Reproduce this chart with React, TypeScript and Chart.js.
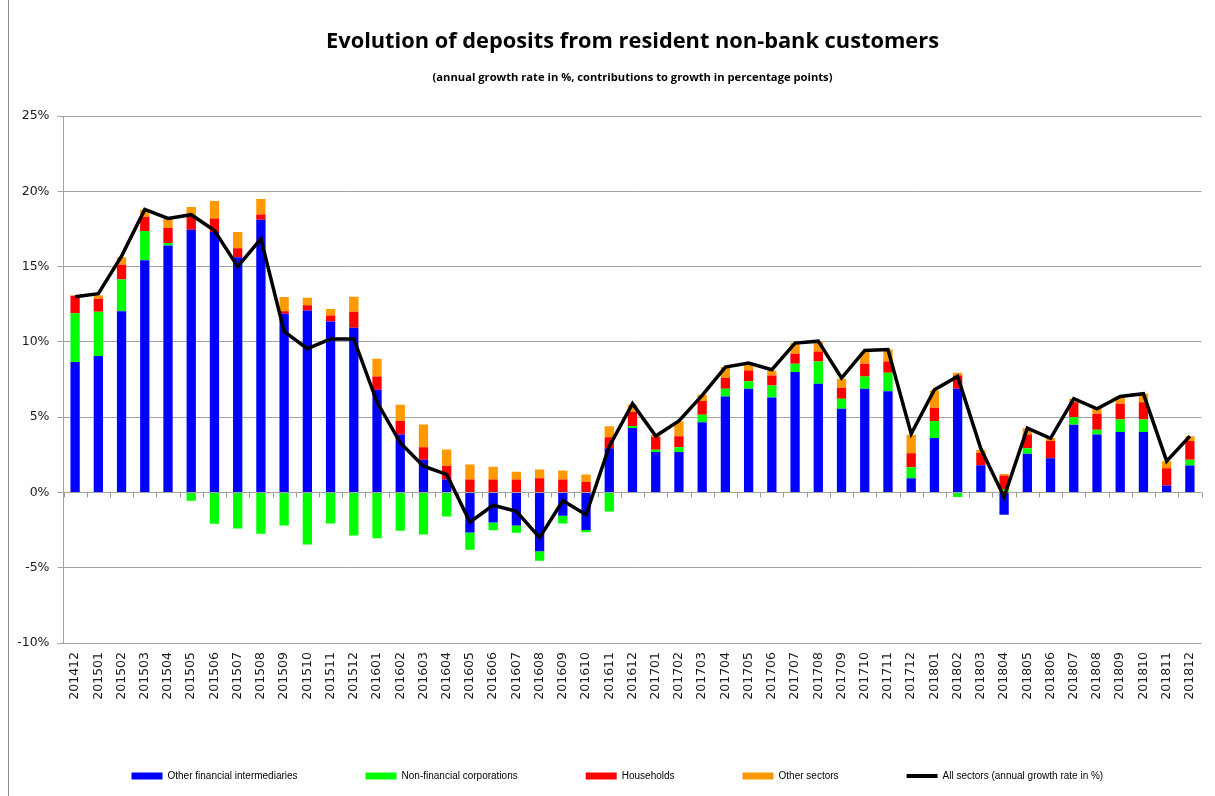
import React, { useEffect, useRef } from "react";
import { Chart, registerables } from "chart.js";

Chart.register(...registerables);

const periods = [
  "201412", "201501", "201502", "201503", "201504", "201505", "201506", "201507", "201508", "201509", "201510", "201511", "201512",
  "201601", "201602", "201603", "201604", "201605", "201606", "201607", "201608", "201609", "201610", "201611", "201612",
  "201701", "201702", "201703", "201704", "201705", "201706", "201707", "201708", "201709", "201710", "201711", "201712",
  "201801", "201802", "201803", "201804", "201805", "201806", "201807", "201808", "201809", "201810", "201811", "201812",
];

const otherFinancial = [
  8.66, 9.06, 12.03, 15.42, 16.41, 17.45, 17.3, 15.63, 18.12, 11.87, 12.09, 11.36, 10.94,
  6.82, 3.85, 2.17, 0.86, -2.66, -2.0, -2.2, -3.9, -1.55, -2.5, 2.94, 4.28,
  2.68, 2.68, 4.67, 6.38, 6.89, 6.31, 8.0, 7.22, 5.56, 6.89, 6.73, 0.95,
  3.61, 6.89, 1.8, -1.48, 2.57, 2.28, 4.5, 3.85, 4.01, 4.01, 0.46, 1.79,
];

const nonFinancial = [
  3.25, 2.94, 2.12, 1.95, 0.16, -0.55, -2.08, -2.4, -2.74, -2.2, -3.46, -2.06, -2.86,
  -3.05, -2.55, -2.8, -1.6, -1.15, -0.51, -0.48, -0.64, -0.51, -0.15, -1.26, 0.13,
  0.16, 0.33, 0.49, 0.51, 0.49, 0.8, 0.55, 1.48, 0.67, 0.82, 1.22, 0.73,
  1.13, -0.3, 0, 0.23, 0.37, 0, 0.5, 0.32, 0.84, 0.84, 0, 0.38,
];

const households = [
  1.14, 0.87, 0.98, 0.93, 0.99, 0.89, 0.89, 0.6, 0.35, 0.16, 0.34, 0.4, 1.06,
  0.89, 0.89, 0.84, 0.91, 0.86, 0.86, 0.86, 0.95, 0.86, 0.69, 0.73, 0.93,
  0.84, 0.73, 0.91, 0.73, 0.72, 0.66, 0.67, 0.67, 0.73, 0.84, 0.75, 0.93,
  0.89, 0.88, 0.84, 0.89, 0.91, 1.13, 1.0, 1.06, 1.04, 1.15, 1.15, 1.24,
];

const otherSectors = [
  0.05, 0.23, 0.5, 0.48, 0.62, 0.62, 1.17, 1.07, 1.03, 0.95, 0.5, 0.42, 1.0,
  1.17, 1.09, 1.51, 1.09, 1.0, 0.84, 0.51, 0.58, 0.6, 0.51, 0.73, 0.49,
  0.15, 0.98, 0.42, 0.71, 0.39, 0.33, 0.7, 0.66, 0.59, 0.77, 0.8, 1.22,
  1.15, 0.18, 0.18, 0.11, 0.42, 0.2, 0.23, 0.4, 0.49, 0.56, 0.47, 0.33,
];

const allSectors = [
  13.0, 13.2, 15.7, 18.8, 18.2, 18.45, 17.4, 15.0, 16.85, 10.7, 9.55, 10.2, 10.2,
  6.0, 3.3, 1.75, 1.2, -1.97, -0.85, -1.25, -3.0, -0.55, -1.48, 3.06, 5.9,
  3.75, 4.75, 6.45, 8.33, 8.6, 8.15, 9.92, 10.05, 7.6, 9.43, 9.5, 3.9,
  6.82, 7.71, 2.9, -0.3, 4.27, 3.6, 6.23, 5.56, 6.38, 6.56, 2.08, 3.74,
];

const yTicks = [-10, -5, 0, 5, 10, 15, 20, 25];

export default function App() {
  const ref = useRef<HTMLCanvasElement>(null);

  useEffect(() => {
    if (!ref.current) return;

    const zeroTicks = {
      id: "zeroTicks",
      beforeDatasetsDraw(chart: any) {
        const { ctx, chartArea, scales } = chart;
        const y0 = Math.round(scales.y.getPixelForValue(0)) + 0.5;
        const n = periods.length;
        const w = (chartArea.right - chartArea.left) / n;
        ctx.save();
        ctx.strokeStyle = "#9a9a9a";
        ctx.lineWidth = 1;
        ctx.beginPath();
        for (let k = 0; k <= n; k++) {
          const x = Math.round(chartArea.left + k * w) + 0.5;
          ctx.moveTo(x, y0);
          ctx.lineTo(x, y0 + 5);
        }
        ctx.stroke();
        ctx.beginPath();
        ctx.strokeStyle = "#8c8c8c";
        ctx.moveTo(8.5, 0);
        ctx.lineTo(8.5, chart.height);
        ctx.stroke();
        ctx.restore();
      },
    };

    const barCommon = {
      type: "bar" as const,
      stack: "bars",
      order: 1,
      borderWidth: 0,
      barPercentage: 0.4,
      categoryPercentage: 1,
    };

    const chart = new Chart(ref.current, {
      type: "bar",
      data: {
        labels: periods,
        datasets: [
          { ...barCommon, label: "Other financial intermediaries", data: otherFinancial, backgroundColor: "#0000FF" },
          { ...barCommon, label: "Non-financial corporations", data: nonFinancial, backgroundColor: "#00FF00" },
          { ...barCommon, label: "Households", data: households, backgroundColor: "#FF0000" },
          { ...barCommon, label: "Other sectors", data: otherSectors, backgroundColor: "#FF9900" },
          {
            type: "line" as const,
            label: "All sectors (annual growth rate in %)",
            data: allSectors,
            stack: "line",
            order: 0,
            borderColor: "#000000",
            backgroundColor: "#000000",
            borderWidth: 3.5,
            pointRadius: 0,
            tension: 0,
          } as any,
        ],
      },
      options: {
        responsive: false,
        animation: false,
        devicePixelRatio: 1,
        events: [],
        layout: { padding: { left: 0, right: 13.5, top: 0, bottom: 5 } },
        scales: {
          x: {
            stacked: true,
            grid: { display: false, drawTicks: false },
            border: { display: false },
            ticks: {
              autoSkip: false,
              maxRotation: 90,
              minRotation: 90,
              padding: 9,
              color: "#1a1a1a",
              font: { family: "DejaVu Sans", size: 12.5 },
            },
            afterFit: (s: any) => {
              s.height = 60;
            },
          },
          y: {
            stacked: true,
            min: -10,
            max: 25,
            afterBuildTicks: (s: any) => {
              s.ticks = yTicks.map((v) => ({ value: v }));
            },
            ticks: {
              callback: (v: any) => v + "%",
              padding: 8,
              color: "#1a1a1a",
              font: { family: "DejaVu Sans", size: 12.5 },
            },
            grid: { color: "#a3a3a3", tickLength: 6, drawTicks: true },
            border: { display: true, color: "#a3a3a3" },
            afterFit: (s: any) => {
              s.width = 63.5;
            },
          },
        },
        plugins: {
          tooltip: { enabled: false },
          title: {
            display: true,
            fullSize: false,
            text: "Evolution of deposits from resident non-bank customers",
            color: "#000",
            font: { family: "Open Sans", size: 21.8, weight: "bold" },
            padding: { top: 29, bottom: 15.5 },
          },
          subtitle: {
            display: true,
            fullSize: false,
            text: "(annual growth rate in %, contributions to growth in percentage points)",
            color: "#000",
            font: { family: "Open Sans", size: 11.2, weight: "bold" },
            padding: { top: 0, bottom: 32 },
          },
          legend: {
            position: "bottom",
            align: "start",
            fullSize: false,
            labels: {
              usePointStyle: true,
              pointStyleWidth: 31,
              boxHeight: 7,
              padding: 68,
              color: "#000",
              font: { family: "Liberation Sans", size: 10 },
              generateLabels: (c: any) => {
                const items = (Chart.defaults.plugins.legend.labels as any).generateLabels(c);
                items.sort((a: any, b: any) => a.datasetIndex - b.datasetIndex);
                return items.map((it: any) => {
                  const isLine = it.datasetIndex === 4;
                  return {
                    ...it,
                    pointStyle: isLine ? "line" : "rect",
                    lineWidth: isLine ? 4 : 0,
                    strokeStyle: isLine ? "#000" : it.fillStyle,
                  };
                });
              },
            },
          },
        },
      } as any,
      plugins: [zeroTicks],
    });

    return () => chart.destroy();
  }, []);

  return (
    <div style={{ position: "fixed", left: 0, top: 0, width: 1215, height: 796, background: "#fff" }}>
      <canvas ref={ref} width={1215} height={796} style={{ width: 1215, height: 796, display: "block" }} />
    </div>
  );
}
